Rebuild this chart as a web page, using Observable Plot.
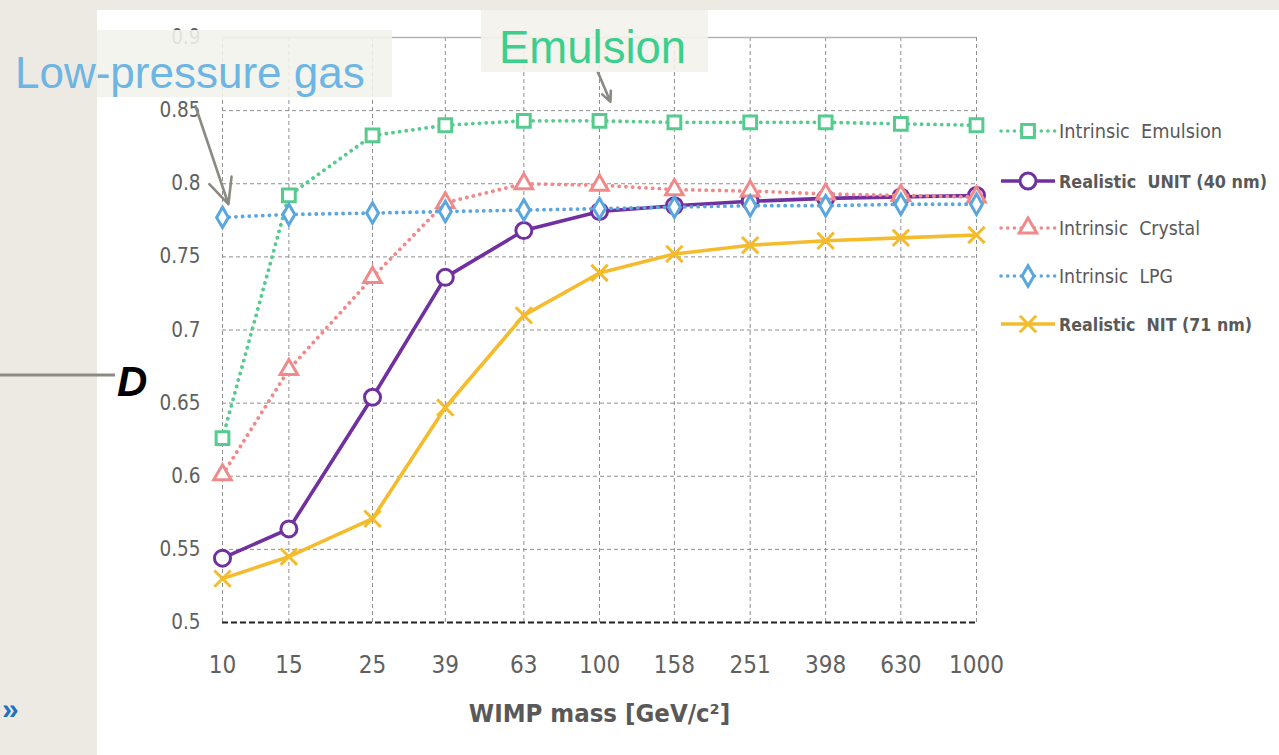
<!DOCTYPE html>
<html>
<head>
<meta charset="utf-8">
<script src="https://cdn.jsdelivr.net/npm/d3@7"></script>
<script src="https://cdn.jsdelivr.net/npm/@observablehq/plot@0.6"></script>
<style>
  html, body { margin: 0; padding: 0; background: #ffffff; }
  #wrap { position: relative; width: 1279px; height: 755px; overflow: hidden; background: #ffffff; }
  .band { position: absolute; background: #edeae3; }
  #chart, #overlay { position: absolute; left: 0; top: 0; }
</style>
</head>
<body>
<div id="wrap">
  <div class="band" style="left:0;top:0;width:97px;height:755px;"></div>
  <div class="band" style="left:0;top:0;width:1279px;height:10px;"></div>
  <div id="chart"></div>
  <svg id="overlay" width="1279" height="755"></svg>
</div>
<script>
// ---------------- data ----------------
const masses   = [10, 15, 25, 39, 63, 100, 158, 251, 398, 630, 1000];
const emulsion = [0.626, 0.792, 0.833, 0.840, 0.843, 0.843, 0.842, 0.842, 0.842, 0.841, 0.840];
const unit     = [0.544, 0.564, 0.654, 0.736, 0.768, 0.781, 0.785, 0.788, 0.790, 0.791, 0.792];
const crystal  = [0.601, 0.673, 0.736, 0.787, 0.800, 0.799, 0.796, 0.795, 0.793, 0.792, 0.791];
const lpg      = [0.777, 0.779, 0.780, 0.781, 0.782, 0.783, 0.784, 0.785, 0.785, 0.786, 0.786];
const nit      = [0.530, 0.545, 0.571, 0.647, 0.710, 0.739, 0.752, 0.758, 0.761, 0.763, 0.765];
const yTicks   = [0.5, 0.55, 0.6, 0.65, 0.7, 0.75, 0.8, 0.85, 0.9];
const xTickLabels = ["10", "15", "25", "39", "63", "100", "158", "251", "398", "630", "1000"];
const seriesNames = ["Intrinsic  Emulsion", "Realistic  UNIT (40 nm)", "Intrinsic  Crystal", "Intrinsic  LPG", "Realistic  NIT (71 nm)"];
const xLabel = "WIMP mass [GeV/c²]";
const annotationArrows = [
  {x1: 8.48, y1: 0.853, x2: 10.37, y2: 0.786},
  {x1: 98.8, y1: 0.877, x2: 106.9, y2: 0.856}
];

// ---------------- styles ----------------
const seriesDefs = [
  {name: seriesNames[0], values: emulsion, color: "#55cb8d", symbol: "square",   dotted: true,  bold: false, r: 7.2, w: 163},
  {name: seriesNames[1], values: unit,     color: "#7030a0", symbol: "circle",   dotted: false, bold: true,  r: 8,   w: 208},
  {name: seriesNames[2], values: crystal,  color: "#f08a8a", symbol: "triangle", dotted: true,  bold: false, r: 6.5, w: 141},
  {name: seriesNames[3], values: lpg,      color: "#5aa6de", symbol: "diamond",  dotted: true,  bold: false, r: 6.2, w: 114},
  {name: seriesNames[4], values: nit,      color: "#f4bc2c", symbol: "times",    dotted: false, bold: true,  r: 7.5, w: 193}
];

const FONT = "'DejaVu Sans Condensed', 'Liberation Sans Narrow', sans-serif";

const seriesMarks = seriesDefs.flatMap(s => {
  const rows = masses.map((m, i) => ({mass: m, value: s.values[i]}));
  return [
    Plot.line(rows, {
      x: "mass", y: "value", stroke: s.color,
      strokeWidth: s.dotted ? 3.8 : 3.6,
      strokeDasharray: s.dotted ? "0.1 6.6" : null,
      strokeLinecap: s.dotted ? "round" : "butt"
    }),
    Plot.dot(rows, {
      x: "mass", y: "value", symbol: s.symbol, r: s.r,
      stroke: s.color, fill: s.symbol === "times" ? "none" : "white",
      strokeWidth: 3
    })
  ];
});

const chart = Plot.plot({
  width: 1279, height: 755,
  marginLeft: 222, marginRight: 303, marginTop: 37, marginBottom: 133,
  style: {background: "transparent", fontFamily: FONT, color: "#606060", overflow: "visible"},
  x: {type: "log", domain: [10, 1000], axis: null},
  y: {domain: [0.5, 0.9], axis: null},
  marks: [
    Plot.gridY(yTicks.filter(v => v > 0.5 && v < 0.9), {stroke: "#8f8f8f", strokeOpacity: 1, strokeWidth: 1, strokeDasharray: "4 3"}),
    Plot.gridX(masses, {stroke: "#8f8f8f", strokeOpacity: 1, strokeWidth: 1, strokeDasharray: "4 3"}),
    Plot.ruleY([0.9], {stroke: "#b4b4b4", strokeWidth: 1.5}),
    Plot.ruleY([0.5], {stroke: "#222222", strokeWidth: 2.2, strokeDasharray: "6 3"}),
    Plot.axisY(yTicks, {tickSize: 0, tickPadding: 22, fontSize: 20.5, fill: "#606060",
      tickFormat: d => String(+d.toFixed(2)), label: null}),
    Plot.text(masses, {x: d => d, frameAnchor: "bottom", dy: 50,
      text: (d, i) => xTickLabels[i], fontSize: 24, fill: "#606060"}),
    Plot.text([xLabel], {frameAnchor: "bottom", dy: 99, fontSize: 25.5, fontWeight: "bold", fill: "#595959"}),
    ...seriesMarks,
    Plot.arrow(annotationArrows, {x1: "x1", y1: "y1", x2: "x2", y2: "y2",
      stroke: "#8a8a82", strokeWidth: 2.6, headLength: 16, headAngle: 50})
  ]
});
document.getElementById("chart").appendChild(chart);

// ---------------- overlay: annotations & legend ----------------
const ov = d3.select("#overlay");

// annotation boxes
ov.append("rect").attr("x", 97).attr("y", 30).attr("width", 295).attr("height", 67)
  .attr("fill", "#f3f2ec").attr("fill-opacity", 0.88);
ov.append("rect").attr("x", 481).attr("y", 10).attr("width", 227).attr("height", 62)
  .attr("fill", "#f3f2ec").attr("fill-opacity", 0.9);

ov.append("text").attr("x", 15).attr("y", 88).text("Low-pressure gas")
  .attr("font-family", "'Liberation Sans', Arial, sans-serif").attr("font-size", 44)
  .attr("fill", "#6db5e3");
ov.append("text").attr("x", 499).attr("y", 63).text("Emulsion")
  .attr("font-family", "'Liberation Sans', Arial, sans-serif").attr("font-size", 45.5)
  .attr("fill", "#3ccf8c");

// D label with leader line
ov.append("line").attr("x1", 0).attr("x2", 115).attr("y1", 375).attr("y2", 375)
  .attr("stroke", "#8b8b83").attr("stroke-width", 3);
ov.append("text").attr("x", 117).attr("y", 396).text("D")
  .attr("font-family", "'Liberation Sans', Arial, sans-serif").attr("font-size", 42)
  .attr("font-weight", "bold").attr("font-style", "italic").attr("fill", "#000");

// nav glyph
ov.append("text").attr("x", 2).attr("y", 719).text("»")
  .attr("font-family", "'Liberation Sans', Arial, sans-serif").attr("font-size", 30)
  .attr("font-weight", "bold").attr("fill", "#1f72c4");

// legend
const symbolMap = {square: d3.symbolSquare, circle: d3.symbolCircle, triangle: d3.symbolTriangle,
                   diamond: d3.symbolDiamond, times: d3.symbolTimes};
const legendY = [131, 181, 228, 276, 324];
seriesDefs.forEach((s, i) => {
  const g = ov.append("g").attr("transform", `translate(0,${legendY[i]})`);
  g.append("line").attr("x1", 1001).attr("x2", 1055).attr("y1", 0).attr("y2", 0)
    .attr("stroke", s.color).attr("stroke-width", 3.5)
    .attr("stroke-dasharray", s.dotted ? "0.1 6.6" : null)
    .attr("stroke-linecap", s.dotted ? "round" : "butt");
  const size = Math.PI * s.r * s.r;
  g.append("path").attr("transform", "translate(1028,0)")
    .attr("d", d3.symbol(symbolMap[s.symbol], size)())
    .attr("fill", s.symbol === "times" ? "none" : "white")
    .attr("stroke", s.color).attr("stroke-width", 3);
  g.append("text").attr("x", 1059).attr("y", 7).text(s.name)
    .attr("font-family", FONT).attr("font-size", s.bold ? 17.5 : 20)
    .attr("font-weight", s.bold ? "bold" : "normal")
    .attr("textLength", s.w).attr("lengthAdjust", "spacingAndGlyphs")
    .attr("fill", "#595959").style("white-space", "pre");
});
</script>
</body>
</html>
